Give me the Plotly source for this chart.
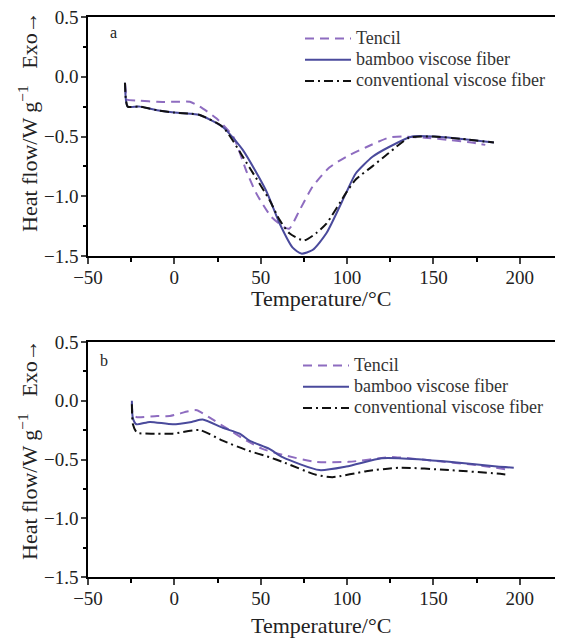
import plotly.graph_objects as go

# ---------------- data: panel a ----------------
a_tencil_T = [-28.5, -28.0, -27.5, -20, -10, 0, 9, 14.7, 24.5, 34, 42, 47.6, 56, 63.7, 66.6, 72.4, 80, 89.7, 99.5, 111, 124, 132, 145, 160, 172, 180]
a_tencil_V = [-0.06, -0.15, -0.19, -0.2, -0.21, -0.21, -0.21, -0.25, -0.35, -0.5, -0.8, -0.98, -1.17, -1.26, -1.27, -1.12, -0.92, -0.76, -0.67, -0.59, -0.51, -0.5, -0.51, -0.53, -0.55, -0.57]

a_bamboo_T = [-28.6, -28.0, -27.0, -20, -10, 0, 10, 14.7, 28, 39.5, 53, 61, 68.5, 73.5, 80, 88, 99.5, 105, 114.7, 124, 137.6, 151, 166.5, 185]
a_bamboo_V = [-0.05, -0.2, -0.25, -0.25, -0.28, -0.3, -0.31, -0.32, -0.42, -0.61, -0.95, -1.23, -1.43, -1.48, -1.45, -1.31, -0.97, -0.81, -0.67, -0.59, -0.50, -0.50, -0.52, -0.55]

a_conv_T = [-28.6, -28.0, -27.0, -20, -10, 0, 10, 14.7, 28, 43.5, 55, 61, 66.6, 75, 82, 88, 99.5, 105, 114.6, 124, 136, 150, 166, 185]
a_conv_V = [-0.05, -0.2, -0.25, -0.25, -0.28, -0.3, -0.31, -0.32, -0.42, -0.76, -1.03, -1.2, -1.31, -1.37, -1.31, -1.23, -0.97, -0.86, -0.75, -0.64, -0.51, -0.50, -0.52, -0.55]

# ---------------- data: panel b ----------------
b_tencil_T = [-24.6, -24.0, -21.7, -10, -2.6, 8, 13, 20, 32, 41.8, 51, 62.6, 82, 101, 124, 128, 150, 176, 195]
b_tencil_V = [-0.02, -0.12, -0.14, -0.13, -0.13, -0.09, -0.08, -0.14, -0.25, -0.34, -0.41, -0.46, -0.52, -0.52, -0.48, -0.48, -0.51, -0.55, -0.59]

b_bamboo_T = [-24.6, -24.0, -22, -14.2, -0.9, 10, 16.4, 28, 37.8, 43.5, 55, 62.6, 84, 99.5, 120, 130, 159, 186.7, 196.5]
b_bamboo_V = [0.0, -0.15, -0.2, -0.18, -0.2, -0.18, -0.16, -0.23, -0.28, -0.34, -0.41, -0.48, -0.59, -0.56, -0.49, -0.49, -0.52, -0.56, -0.57]

b_conv_T = [-24.6, -24.0, -21.7, -10, -1, 14.7, 28, 41.8, 55, 62.6, 82, 91.5, 111, 130, 159, 186.7, 193.6]
b_conv_V = [-0.03, -0.2, -0.27, -0.28, -0.28, -0.25, -0.34, -0.42, -0.48, -0.52, -0.63, -0.65, -0.6, -0.57, -0.59, -0.62, -0.63]

series_names = ["Tencil", "bamboo viscose fiber", "conventional viscose fiber"]
x_tick_vals = [-50, 0, 50, 100, 150, 200]
y_tick_vals = [0.5, 0.0, -0.5, -1.0, -1.5]
y_tick_text = ["0.5", "0.0", "\u22120.5", "\u22121.0", "\u22121.5"]
x_tick_text = ["\u221250", "0", "50", "100", "150", "200"]

# the page body adds an 8px offset, so the figure is 8px smaller than the window
OFF = 8
W, H = 563 - OFF, 639 - OFF
FONT = "Liberation Serif"
c_tencil = "#8e6cc0"
c_bamboo = "#4a4a9c"
c_conv = "#111111"

styles = [
    dict(color=c_tencil, width=2, dash="9px,6px"),
    dict(color=c_bamboo, width=2, dash="solid"),
    dict(color=c_conv, width=2, dash="9px,4px,2px,4px"),
]

fig = go.Figure()
panels = [
    ([a_tencil_T, a_bamboo_T, a_conv_T], [a_tencil_V, a_bamboo_V, a_conv_V], "x", "y", "legend"),
    ([b_tencil_T, b_bamboo_T, b_conv_T], [b_tencil_V, b_bamboo_V, b_conv_V], "x2", "y2", "legend2"),
]
for Ts, Vs, xa, ya, lg in panels:
    for name, T, V, st in zip(series_names, Ts, Vs, styles):
        fig.add_trace(go.Scatter(x=T, y=V, mode="lines", name='<span style="font-size:18px">' + name + '</span>',
                                 line=dict(shape="spline", smoothing=0.6, **st),
                                 xaxis=xa, yaxis=ya, legend=lg))

def px_x(p):
    return (p - OFF) / W

def px_y(p):
    return 1 - (p - OFF) / H

xdom = [px_x(88), 1.0]
common_x = dict(range=[-50, 225], tickvals=x_tick_vals, ticktext=x_tick_text, ticks="outside", ticklen=6,
                tickwidth=1.5, showline=True, linecolor="black", linewidth=1.5, mirror=True, showgrid=False,
                zeroline=False, automargin=False, ticklabeloverflow="allow", ticklabelstandoff=-3,
                tickfont=dict(family=FONT, size=19, color="#222"),
                minor=dict(dtick=25, tick0=-50, ticks="outside", ticklen=4, tickwidth=1.5, tickcolor="black", showgrid=False))
common_y = dict(range=[-1.5, 0.5], tickvals=y_tick_vals, ticktext=y_tick_text, ticks="outside", ticklen=5,
                tickwidth=1.5, showline=True, linecolor="black", linewidth=1.5, showgrid=False, zeroline=False,
                automargin=False, ticklabeloverflow="allow", ticklabelstandoff=-1,
                tickfont=dict(family=FONT, size=19, color="#222"),
                minor=dict(dtick=0.25, tick0=0, ticks="outside", ticklen=3, tickwidth=1.5, tickcolor="black", showgrid=False))

fig.update_layout(
    width=W, height=H, margin=dict(l=0, r=0, t=0, b=0, autoexpand=False),
    paper_bgcolor="white", plot_bgcolor="white",
    font=dict(family=FONT, color="black"),
    xaxis=dict(domain=xdom, anchor="y", **common_x),
    yaxis=dict(domain=[px_y(256), px_y(17)], anchor="x", **common_y),
    xaxis2=dict(domain=xdom, anchor="y2", **common_x),
    yaxis2=dict(domain=[px_y(577), px_y(342)], anchor="x2", **common_y),
    legend=dict(x=px_x(300), y=px_y(23), xanchor="left", yanchor="top", bgcolor="rgba(0,0,0,0)",
                font=dict(family=FONT, size=14, color="#333"), tracegroupgap=0, itemwidth=46),
    legend2=dict(x=px_x(298), y=px_y(350), xanchor="left", yanchor="top", bgcolor="rgba(0,0,0,0)",
                 font=dict(family=FONT, size=14, color="#333"), tracegroupgap=0, itemwidth=46),
    showlegend=True,
)

ann = []
for ycen, label, lx, ly in [(122, "a", 113, 33), (450, "b", 104, 360)]:
    ann.append(dict(text="Heat flow/W g<sup>\u22121</sup>\u2002 Exo\u2192", x=px_x(28), y=px_y(ycen), xref="paper", yref="paper",
                    showarrow=False, textangle=-90, font=dict(family=FONT, size=22, color="#222"),
                    xanchor="center", yanchor="middle"))
    ann.append(dict(text=label, x=px_x(lx), y=px_y(ly), xref="paper", yref="paper", showarrow=False,
                    font=dict(family=FONT, size=16, color="#222"), xanchor="center", yanchor="middle"))
for ty in [298, 625]:
    ann.append(dict(text="Temperature/\u00b0C", x=px_x(321), y=px_y(ty), xref="paper", yref="paper", showarrow=False,
                    font=dict(family=FONT, size=22, color="#222"), xanchor="center", yanchor="middle"))
fig.update_layout(annotations=ann)

fig.write_html("out.html")
